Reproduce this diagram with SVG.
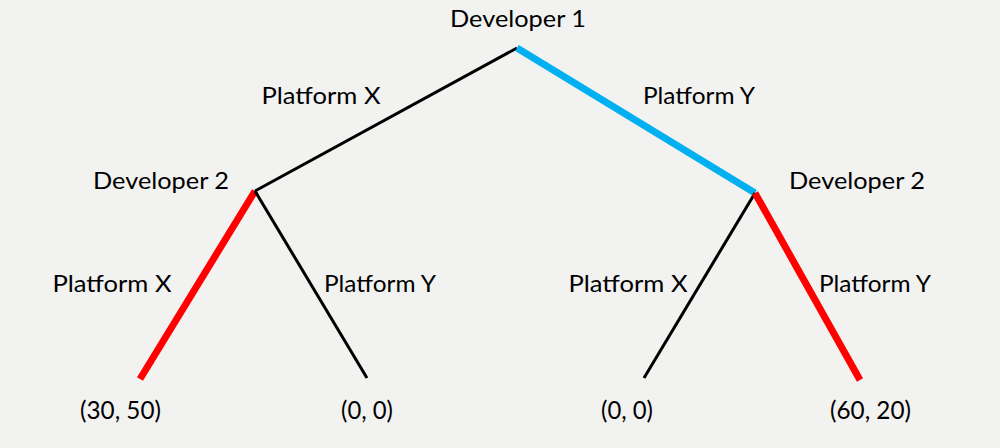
<svg xmlns="http://www.w3.org/2000/svg" width="1000" height="448" viewBox="0 0 1000 448">
<style>
text{font-family:Lato,"Open Sans","Liberation Sans",sans-serif;font-size:24px;fill:#000;text-anchor:middle}
.leaf text{font-size:25px}
.e{stroke:#000;stroke-width:3;stroke-linecap:butt}
.b{stroke:#00b0f0;stroke-width:7}
.r{stroke:#ff0000;stroke-width:7}
</style>
<rect width="1000" height="448" fill="#f2f2f0"/>
<g id="connectors">
<line class="e" x1="517" y1="48" x2="255" y2="191"/>
<line class="b" x1="517" y1="48" x2="755" y2="193"/>
<line class="r" x1="255" y1="191" x2="140" y2="379"/>
<line class="e" x1="255" y1="191" x2="367" y2="378"/>
<line class="e" x1="755" y1="193" x2="644" y2="378"/>
<line class="r" x1="755" y1="193" x2="860" y2="380"/>
</g>
<g id="edge-labels">
<text x="321" y="104" textLength="119" lengthAdjust="spacingAndGlyphs">Platform X</text>
<text x="699" y="104" textLength="112" lengthAdjust="spacingAndGlyphs">Platform Y</text>
<text x="112" y="292" textLength="119" lengthAdjust="spacingAndGlyphs">Platform X</text>
<text x="380" y="292" textLength="112" lengthAdjust="spacingAndGlyphs">Platform Y</text>
<text x="628" y="292" textLength="119" lengthAdjust="spacingAndGlyphs">Platform X</text>
<text x="875" y="292" textLength="112" lengthAdjust="spacingAndGlyphs">Platform Y</text>
</g>
<g id="root"><text x="518" y="27" textLength="136" lengthAdjust="spacingAndGlyphs">Developer 1</text></g>
<g id="dev2-left"><text x="161" y="189" textLength="136" lengthAdjust="spacingAndGlyphs">Developer 2</text></g>
<g id="dev2-right"><text x="857" y="189" textLength="136" lengthAdjust="spacingAndGlyphs">Developer 2</text></g>
<g id="leaf1" class="leaf"><text x="120.5" y="419" textLength="81" lengthAdjust="spacingAndGlyphs">(30, 50)</text></g>
<g id="leaf2" class="leaf"><text x="367" y="419" textLength="52" lengthAdjust="spacingAndGlyphs">(0, 0)</text></g>
<g id="leaf3" class="leaf"><text x="627" y="419" textLength="52" lengthAdjust="spacingAndGlyphs">(0, 0)</text></g>
<g id="leaf4" class="leaf"><text x="870.5" y="419" textLength="81" lengthAdjust="spacingAndGlyphs">(60, 20)</text></g>
</svg>
